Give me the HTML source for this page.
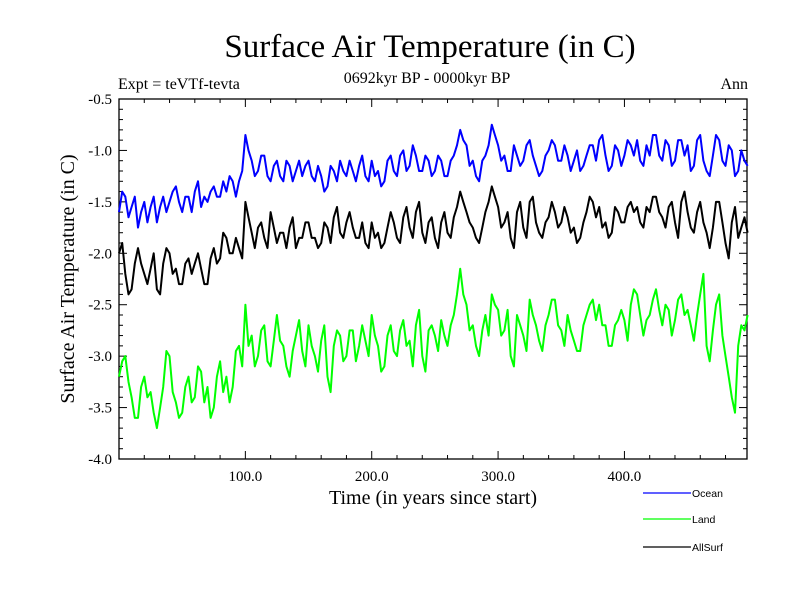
<!DOCTYPE html>
<html><head><meta charset="utf-8"><style>
body{margin:0;background:#fff}
svg text{font-family:"Liberation Serif",serif;fill:#000}
svg text.sans{font-family:"Liberation Sans",sans-serif}
</style></head><body>
<svg id="chart" width="800" height="600" viewBox="0 0 800 600">
<text x="430" y="57" font-size="33" text-anchor="middle">Surface Air Temperature (in C)</text>
<text x="427" y="83" font-size="16" text-anchor="middle">0692kyr BP - 0000kyr BP</text>
<text x="118" y="89" font-size="16">Expt = teVTf-tevta</text>
<text x="748" y="89" font-size="16" text-anchor="end">Ann</text>
<text x="433" y="504" font-size="20" text-anchor="middle">Time (in years since start)</text>
<text transform="translate(74,279) rotate(-90)" font-size="20" text-anchor="middle">Surface Air Temperature (in C)</text>
<g id="axes"></g>
<g id="series"></g>
<g id="legend"></g>
</svg>
<script>
const years = Array.from({length:200},(_, i)=>i*2.5);
const ocean = [-1.6,-1.4,-1.45,-1.65,-1.55,-1.45,-1.75,-1.6,-1.5,-1.7,-1.55,-1.45,-1.7,-1.55,-1.45,-1.6,-1.5,-1.4,-1.35,-1.5,
-1.6,-1.45,-1.45,-1.6,-1.4,-1.3,-1.55,-1.45,-1.5,-1.4,-1.35,-1.45,-1.45,-1.3,-1.4,-1.25,-1.3,-1.45,-1.3,-1.2,
-0.85,-1.0,-1.1,-1.25,-1.2,-1.05,-1.05,-1.25,-1.3,-1.15,-1.1,-1.25,-1.3,-1.1,-1.15,-1.3,-1.2,-1.1,-1.25,-1.15,
-1.1,-1.25,-1.3,-1.15,-1.25,-1.4,-1.35,-1.15,-1.2,-1.3,-1.1,-1.2,-1.25,-1.1,-1.2,-1.3,-1.15,-1.05,-1.25,-1.3,
-1.1,-1.25,-1.2,-1.35,-1.3,-1.1,-1.05,-1.2,-1.25,-1.05,-1.0,-1.2,-1.15,-0.95,-1.05,-1.2,-1.2,-1.05,-1.1,-1.25,
-1.2,-1.05,-1.1,-1.25,-1.25,-1.1,-1.05,-0.95,-0.8,-0.9,-0.95,-1.15,-1.1,-1.25,-1.3,-1.1,-1.05,-0.95,-0.75,-0.85,
-0.95,-1.1,-1.05,-1.2,-1.2,-0.95,-1.05,-1.15,-1.1,-0.95,-0.9,-1.05,-1.15,-1.25,-1.2,-1.05,-1.0,-0.9,-0.95,-1.1,
-1.1,-0.95,-1.05,-1.2,-1.1,-1.0,-1.2,-1.15,-1.05,-0.95,-0.95,-1.1,-0.9,-0.85,-1.05,-1.2,-1.15,-0.95,-1.0,-1.15,
-1.05,-0.9,-0.95,-1.05,-0.9,-1.1,-1.15,-0.95,-1.05,-0.85,-0.85,-1.05,-1.1,-0.9,-0.95,-1.15,-1.1,-0.9,-0.9,-1.05,
-0.95,-1.2,-1.15,-0.9,-0.85,-1.1,-1.2,-1.25,-1.05,-0.85,-0.9,-1.1,-1.15,-0.95,-1.0,-1.25,-1.2,-1.0,-1.1,-1.15];
const allsurf = [-2.0,-1.9,-2.2,-2.4,-2.35,-2.1,-1.95,-2.1,-2.2,-2.3,-2.15,-2.0,-2.35,-2.4,-2.1,-1.95,-2.0,-2.2,-2.15,-2.3,
-2.3,-2.1,-2.05,-2.2,-2.1,-2.0,-2.15,-2.3,-2.3,-2.05,-1.95,-2.1,-2.05,-1.8,-1.85,-2.0,-2.0,-1.85,-1.95,-2.05,
-1.5,-1.65,-1.8,-1.95,-1.75,-1.7,-1.85,-1.95,-1.6,-1.75,-1.9,-1.8,-1.8,-1.95,-1.75,-1.65,-1.95,-1.85,-1.85,-1.7,
-1.7,-1.85,-1.85,-1.95,-1.9,-1.7,-1.75,-1.9,-1.65,-1.55,-1.8,-1.85,-1.7,-1.6,-1.75,-1.85,-1.85,-1.7,-1.9,-1.95,
-1.7,-1.85,-1.8,-1.95,-1.9,-1.75,-1.6,-1.7,-1.85,-1.9,-1.65,-1.55,-1.75,-1.85,-1.6,-1.5,-1.8,-1.9,-1.7,-1.65,
-1.85,-1.95,-1.7,-1.6,-1.8,-1.85,-1.65,-1.55,-1.4,-1.5,-1.6,-1.7,-1.75,-1.85,-1.9,-1.75,-1.6,-1.5,-1.35,-1.45,
-1.55,-1.75,-1.7,-1.6,-1.85,-1.95,-1.6,-1.5,-1.75,-1.85,-1.5,-1.45,-1.7,-1.8,-1.85,-1.7,-1.65,-1.5,-1.6,-1.75,
-1.7,-1.55,-1.65,-1.8,-1.75,-1.9,-1.85,-1.7,-1.6,-1.45,-1.5,-1.65,-1.55,-1.75,-1.7,-1.85,-1.8,-1.55,-1.6,-1.7,
-1.7,-1.55,-1.5,-1.6,-1.55,-1.7,-1.75,-1.55,-1.6,-1.45,-1.45,-1.6,-1.65,-1.75,-1.55,-1.5,-1.7,-1.85,-1.5,-1.4,
-1.6,-1.75,-1.8,-1.6,-1.5,-1.7,-1.8,-1.95,-1.75,-1.5,-1.5,-1.7,-1.9,-2.05,-1.7,-1.55,-1.85,-1.75,-1.65,-1.8];
const land = [-3.2,-3.05,-3.0,-3.25,-3.4,-3.6,-3.6,-3.3,-3.2,-3.4,-3.35,-3.55,-3.7,-3.5,-3.3,-2.95,-3.0,-3.35,-3.45,-3.6,
-3.55,-3.3,-3.2,-3.45,-3.4,-3.1,-3.15,-3.45,-3.3,-3.6,-3.5,-3.2,-3.05,-3.35,-3.2,-3.45,-3.3,-2.95,-2.9,-3.1,
-2.5,-2.9,-2.8,-3.1,-3.0,-2.75,-2.7,-3.05,-3.1,-2.85,-2.6,-2.85,-2.9,-3.1,-3.2,-2.95,-2.8,-2.65,-2.95,-3.1,
-2.7,-2.9,-3.0,-3.15,-2.85,-2.7,-3.2,-3.35,-2.9,-2.75,-2.8,-3.05,-3.0,-2.75,-2.75,-3.05,-2.9,-2.7,-2.85,-3.0,
-2.6,-2.8,-2.9,-3.15,-3.1,-2.8,-2.7,-2.95,-3.0,-2.75,-2.65,-2.9,-2.85,-3.1,-2.7,-2.55,-3.0,-3.15,-2.75,-2.7,
-2.8,-2.95,-2.65,-2.8,-2.9,-2.7,-2.6,-2.4,-2.15,-2.4,-2.5,-2.75,-2.7,-2.9,-3.0,-2.75,-2.6,-2.8,-2.4,-2.5,
-2.55,-2.8,-2.75,-2.55,-3.0,-3.1,-2.6,-2.7,-2.8,-2.95,-2.45,-2.6,-2.7,-2.85,-2.95,-2.7,-2.6,-2.45,-2.45,-2.7,
-2.75,-2.9,-2.6,-2.75,-2.85,-2.95,-2.95,-2.7,-2.6,-2.5,-2.45,-2.65,-2.5,-2.7,-2.7,-2.9,-2.9,-2.7,-2.65,-2.55,
-2.65,-2.85,-2.5,-2.35,-2.4,-2.6,-2.8,-2.65,-2.6,-2.45,-2.35,-2.55,-2.7,-2.5,-2.55,-2.8,-2.65,-2.45,-2.4,-2.6,
-2.55,-2.7,-2.85,-2.6,-2.4,-2.2,-2.9,-3.05,-2.75,-2.5,-2.4,-2.8,-3.0,-3.2,-3.4,-3.55,-2.9,-2.7,-2.75,-2.6];
const yTickLabels = ["-0.5","-1.0","-1.5","-2.0","-2.5","-3.0","-3.5","-4.0"];
const xTickLabels = ["100.0","200.0","300.0","400.0"];
const seriesNames = ["Ocean","Land","AllSurf"];
const seriesColors = ["#0000ff","#00ff00","#000000"];

const L=119,R=747,T=99,B=459, X0=0,X1=497, Y0=-4,Y1=-0.5;
const sx=v=>L+(v-X0)/(X1-X0)*(R-L);
const sy=v=>B-(v-Y0)/(Y1-Y0)*(B-T);
const NS="http://www.w3.org/2000/svg";
function mk(tag,attrs,parent){const e=document.createElementNS(NS,tag);for(const k in attrs)e.setAttribute(k,attrs[k]);parent.appendChild(e);return e;}
const ax=document.getElementById('axes');
const frame=mk('rect',{x:L,y:T,width:R-L,height:B-T,fill:'none',stroke:'#000','stroke-width':1.3},ax);


for(let k=0;k<=35;k++){const v=-4+k*0.1;const y=sy(v);const major=k%5===0;const len=major?8:4;
 mk('line',{x1:L,x2:L+len,y1:y,y2:y,stroke:'#000'},ax);mk('line',{x1:R,x2:R-len,y1:y,y2:y,stroke:'#000'},ax);}
yTickLabels.forEach(s=>{const t=mk('text',{x:112,y:sy(parseFloat(s))+5,'font-size':15,'text-anchor':'end'},ax);t.textContent=s;
 
 });
for(let v=20;v<X1;v+=20){const x=sx(v);const major=v%100===0;const len=major?8:4;
 mk('line',{x1:x,x2:x,y1:B,y2:B-len,stroke:'#000'},ax);mk('line',{x1:x,x2:x,y1:T,y2:T+len,stroke:'#000'},ax);}
xTickLabels.forEach(s=>{const t=mk('text',{x:sx(parseFloat(s)),y:481,'font-size':15,'text-anchor':'middle'},ax);t.textContent=s;
 
 });
const sg=document.getElementById('series');
[ocean,land,allsurf].forEach((arr,i)=>{
 const d=arr.map((v,j)=>(j?'L':'M')+sx(years[j]).toFixed(1)+','+sy(v).toFixed(1)).join('');
 const p=mk('path',{d:d,fill:'none',stroke:seriesColors[i],'stroke-width':2,'stroke-linejoin':'round'},sg);
 
 
});
const lg=document.getElementById('legend');
[493,519,547].forEach((y,i)=>{
 const ln=mk('line',{x1:643,x2:691,y1:y,y2:y,stroke:seriesColors[i],'stroke-width':1.3},lg);
 
 
 const t=mk('text',{x:692,y:y+4,'font-size':10.5,'class':'sans'},lg);t.textContent=seriesNames[i];
 
 
});
</script>
</body></html>
